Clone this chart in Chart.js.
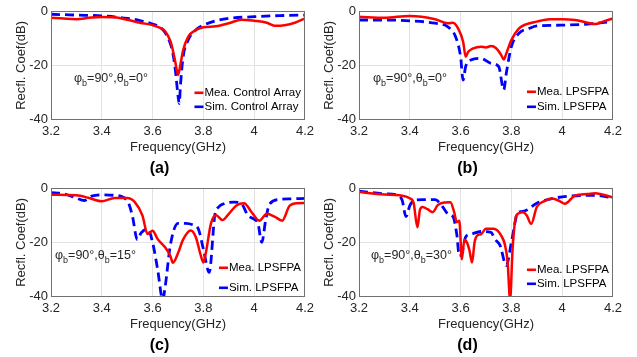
<!DOCTYPE html>
<html>
<head>
<meta charset="utf-8">
<script src="https://cdn.jsdelivr.net/npm/chart.js@4.4.1/dist/chart.umd.min.js"></script>
<style>
  body { margin: 0; background: #fff; width: 637px; height: 357px; position: relative; overflow: hidden; }
  canvas { position: absolute; }
</style>
</head>
<body>
<canvas id="pa" width="318" height="178" style="left:0;top:0"></canvas>
<canvas id="pb" width="318" height="178" style="left:308px;top:0"></canvas>
<canvas id="pc" width="318" height="178" style="left:0;top:177px"></canvas>
<canvas id="pd" width="318" height="178" style="left:308px;top:177px"></canvas>
<script>
// (a) control array, phi=90 theta=0
const fA_mea = [3.2,3.25,3.3,3.35,3.4,3.45,3.5,3.55,3.6,3.63,3.65,3.67,3.68,3.69,3.7,3.71,3.72,3.74,3.77,3.8,3.85,3.9,3.95,4.0,4.05,4.08,4.12,4.16,4.2];
const sA_mea = [-2.5,-2.8,-3,-2.5,-2.2,-2.3,-3.2,-4.3,-5.2,-6.2,-7.5,-11,-14.5,-19,-23.5,-19.5,-14.5,-9.5,-7,-6,-5.6,-4.5,-3.2,-3.6,-4.3,-5.4,-5.2,-4.3,-2.7];
const fA_sim = [3.2,3.3,3.4,3.5,3.55,3.6,3.63,3.65,3.67,3.68,3.69,3.7,3.705,3.71,3.72,3.74,3.77,3.8,3.85,3.9,4.0,4.1,4.2];
const sA_sim = [-1.2,-1.5,-1.8,-2.7,-3.5,-4.8,-6,-8,-12,-15.6,-22,-31,-34,-27,-17,-10.7,-7,-5.2,-3.6,-2.7,-2.1,-1.7,-1.5];

// (b) LPSFPA, phi=90 theta=0
const fB_mea = [3.2,3.3,3.4,3.5,3.55,3.57,3.59,3.61,3.62,3.63,3.65,3.68,3.7,3.72,3.74,3.76,3.77,3.78,3.8,3.83,3.86,3.9,3.95,4.0,4.05,4.1,4.13,4.16,4.2];
const sB_mea = [-2.1,-2.5,-1.8,-3,-4.5,-4.3,-6.4,-11.3,-16.8,-15,-13.7,-13.1,-13.4,-12.9,-13.7,-16.2,-17.8,-15.6,-10.7,-6.4,-4.8,-3.9,-3,-3,-3.3,-4.3,-4.8,-3.9,-2.7];
const fB_sim = [3.2,3.3,3.4,3.5,3.55,3.58,3.6,3.61,3.62,3.64,3.68,3.72,3.75,3.77,3.78,3.8,3.83,3.87,3.9,4.0,4.1,4.2];
const sB_sim = [-3.3,-3.3,-3.6,-4.5,-5.8,-9.4,-16.8,-25.4,-20.4,-18,-17.4,-19.3,-20.4,-29,-22.9,-13.1,-8.2,-6.4,-5.5,-5.2,-4.8,-3.9];

// (c) LPSFPA, phi=90 theta=15
const fC_mea = [3.2,3.3,3.35,3.4,3.45,3.5,3.53,3.56,3.58,3.6,3.62,3.65,3.67,3.68,3.7,3.72,3.75,3.77,3.79,3.8,3.81,3.83,3.85,3.875,3.9,3.93,3.96,3.99,4.02,4.05,4.08,4.11,4.14,4.17,4.2];
const sC_mea = [-2.5,-2.7,-3.7,-4.9,-3.7,-3.7,-5.2,-10.1,-16.9,-15.7,-18.8,-21.9,-25,-27.5,-24,-19,-15.6,-18,-24.9,-27.4,-23.7,-13,-10,-11.8,-9.5,-6.4,-5.6,-8.9,-12,-9.5,-10.5,-12,-6.5,-5.6,-5.5];
const fC_sim = [3.2,3.25,3.3,3.33,3.36,3.4,3.45,3.5,3.52,3.54,3.555,3.58,3.6,3.62,3.64,3.65,3.67,3.7,3.73,3.76,3.78,3.8,3.823,3.845,3.86,3.88,3.92,3.95,3.975,4.0,4.015,4.03,4.045,4.06,4.1,4.15,4.2];
const sC_sim = [-1.7,-2.1,-3.7,-4.6,-3,-2.5,-2.7,-4.6,-10,-19,-16.5,-15,-20,-30,-41,-36,-21,-13,-13,-13.6,-15,-22.5,-31,-10,-7,-5.8,-5.2,-5.8,-10,-11.5,-13,-20,-12,-6,-4.2,-4,-3.8];

// (d) LPSFPA, phi=90 theta=30
const fD_mea = [3.2,3.3,3.36,3.4,3.415,3.43,3.44,3.45,3.47,3.49,3.51,3.54,3.56,3.575,3.585,3.595,3.605,3.615,3.625,3.635,3.645,3.655,3.665,3.68,3.7,3.73,3.76,3.775,3.785,3.795,3.805,3.82,3.845,3.86,3.878,3.9,3.93,3.96,3.99,4.01,4.05,4.1,4.13,4.2];
const sD_mea = [-1.5,-2.4,-2.7,-3.8,-5.5,-14.4,-8,-7,-7.8,-8.9,-6.3,-5.3,-5.2,-9,-12.6,-12,-26.2,-19,-20,-23,-27.4,-20,-17.5,-17,-15,-15,-17.5,-21,-27,-41,-22,-10,-8.9,-10,-13.2,-7,-4.8,-3.9,-4.8,-5.8,-2.8,-2.2,-1.9,-3.5];
const fD_sim = [3.2,3.3,3.35,3.37,3.385,3.4,3.42,3.45,3.5,3.53,3.55,3.57,3.585,3.595,3.605,3.62,3.64,3.68,3.72,3.735,3.755,3.78,3.8,3.825,3.85,3.9,3.96,4.04,4.13,4.2];
const sD_sim = [-1.2,-2.1,-2.6,-4.5,-10.5,-6.5,-4.5,-4.3,-4.3,-7,-9.5,-10.5,-17,-25,-24,-18,-17,-16,-16.3,-18.8,-21,-28.5,-20,-9.2,-8.5,-5.6,-3.9,-2.9,-2.7,-3.6];

const xTicks = [3.2, 3.4, 3.6, 3.8, 4, 4.2];
const yTicks = [-40, -20, 0];

const FONT = "'Liberation Sans', Arial, sans-serif";
const pts = (f, s) => f.map((x, i) => ({ x: x, y: s[i] }));

// box around plot, phi/theta note and inside legend
const panelDecor = {
    id: 'panelDecor',
    afterDraw(chart, args, opts) {
        const ctx = chart.ctx;
        const a = chart.chartArea;
        ctx.save();
        ctx.strokeStyle = '#707070';
        ctx.lineWidth = 1;
        ctx.strokeRect(Math.round(a.left) + 0.5, Math.round(a.top) + 0.5,
            Math.round(a.right - a.left) - 1, Math.round(a.bottom - a.top) - 1);

        // note like  φb=90°,θb=0°
        let x = a.left + opts.noteX;
        const y = a.top + opts.noteY;
        ctx.fillStyle = '#262626';
        ctx.textBaseline = 'alphabetic';
        for (const [t, sub] of opts.note) {
            ctx.font = sub ? '9px ' + FONT : '12.5px ' + FONT;
            ctx.fillText(t, x, y + (sub ? 4 : 0));
            x += ctx.measureText(t).width;
        }

        // legend
        ctx.font = '11.5px ' + FONT;
        const w = Math.max(...chart.data.datasets.map(d => ctx.measureText(d.label).width));
        const tx = a.right - 4 - w;
        chart.data.datasets.forEach((d, i) => {
            const ly = a.bottom - opts.legendRows[i];
            ctx.strokeStyle = d.borderColor;
            ctx.lineWidth = 2.6;
            ctx.setLineDash([]);
            ctx.beginPath();
            ctx.moveTo(tx - 10, ly);
            ctx.lineTo(tx - 1, ly);
            ctx.stroke();
            ctx.fillStyle = '#000';
            ctx.textBaseline = 'middle';
            ctx.fillText(d.label, tx, ly);
        });
        ctx.restore();
    }
};

function makePanel(id, meaLabel, simLabel, mea, sim, tag, deco) {
    const ctx = document.getElementById(id).getContext('2d');
    return new Chart(ctx, {
        type: 'scatter',
        data: {
            datasets: [{
                label: meaLabel,
                data: mea,
                showLine: true,
                borderColor: '#ff0000',
                borderWidth: 2.5,
                pointRadius: 0,
                cubicInterpolationMode: 'monotone'
            }, {
                label: simLabel,
                data: sim,
                showLine: true,
                borderColor: '#0000ff',
                borderWidth: 2.8,
                borderDash: [9, 5],
                pointRadius: 0,
                cubicInterpolationMode: 'monotone'
            }]
        },
        options: {
            responsive: false,
            animation: false,
            devicePixelRatio: 1,
            layout: { padding: { top: 11, right: 11, left: 12, bottom: 0 } },
            plugins: {
                legend: { display: false },
                tooltip: { enabled: false },
                title: {
                    display: true,
                    position: 'bottom',
                    text: tag,
                    color: '#000',
                    font: { family: FONT, size: 16, weight: 'bold' },
                    padding: { top: 4, bottom: 0 }
                },
                panelDecor: deco
            },
            scales: {
                x: {
                    type: 'linear',
                    min: 3.2,
                    max: 4.2,
                    afterBuildTicks: axis => { axis.ticks = xTicks.map(v => ({ value: v })); },
                    afterFit: axis => { axis.height = 35; },
                    ticks: {
                        color: '#262626',
                        font: { family: FONT, size: 13 },
                        padding: 4,
                        maxRotation: 0,
                        callback: v => String(Number(v.toFixed(1)))
                    },
                    grid: { color: '#e3e3e3', drawTicks: false },
                    border: { display: false },
                    title: {
                        display: true,
                        text: 'Frequency(GHz)',
                        color: '#262626',
                        font: { family: FONT, size: 13 },
                        padding: 0
                    }
                },
                y: {
                    type: 'linear',
                    min: -40,
                    max: 0,
                    afterBuildTicks: axis => { axis.ticks = yTicks.map(v => ({ value: v })); },
                    afterFit: axis => { axis.width = 39; },
                    ticks: {
                        color: '#262626',
                        font: { family: FONT, size: 13 },
                        padding: 3
                    },
                    grid: { color: '#e3e3e3', drawTicks: false },
                    border: { display: false },
                    title: {
                        display: true,
                        text: 'Recfl. Coef(dB)',
                        color: '#262626',
                        font: { family: FONT, size: 13 },
                        padding: { top: 2, bottom: 0 }
                    }
                }
            }
        },
        plugins: [panelDecor]
    });
}

const note = th => [['φ', false], ['b', true], ['=90°,', false], ['θ', false], ['b', true], ['=' + th + '°', false]];

makePanel('pa', 'Mea. Control Array', 'Sim. Control Array',
    pts(fA_mea, sA_mea), pts(fA_sim, sA_sim), '(a)',
    { note: note(0), noteX: 23, noteY: 71, legendRows: [27, 13] });
makePanel('pb', 'Mea. LPSFPA', 'Sim. LPSFPA',
    pts(fB_mea, sB_mea), pts(fB_sim, sB_sim), '(b)',
    { note: note(0), noteX: 14, noteY: 71, legendRows: [28, 13] });
makePanel('pc', 'Mea. LPSFPA', 'Sim. LPSFPA',
    pts(fC_mea, sC_mea), pts(fC_sim, sC_sim), '(c)',
    { note: note(15), noteX: 4, noteY: 71, legendRows: [29, 9] });
makePanel('pd', 'Mea. LPSFPA', 'Sim. LPSFPA',
    pts(fD_mea, sD_mea), pts(fD_sim, sD_sim), '(d)',
    { note: note(30), noteX: 12, noteY: 71, legendRows: [27, 13] });
</script>
</body>
</html>
